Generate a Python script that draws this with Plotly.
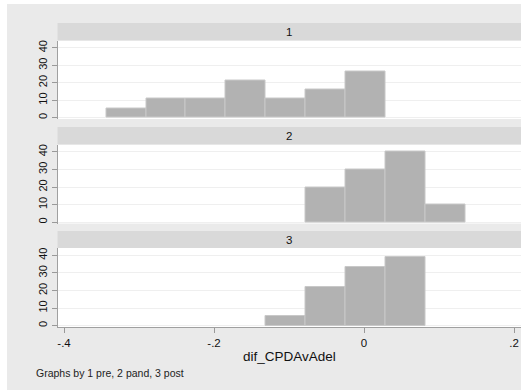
import plotly.graph_objects as go
from plotly.subplots import make_subplots

# Data
bin_edges = [-0.344, -0.2907, -0.2374, -0.1841, -0.1308, -0.0775, -0.0242, 0.0291, 0.0824, 0.1357]
panel_labels = ["1", "2", "3"]
pct_pre = [5.3, 10.8, 10.8, 21.3, 10.8, 16.0, 26.6, None, None]
pct_pand = [None, None, None, None, None, 20.0, 30.0, 40.0, 10.0]
pct_post = [None, None, None, None, 5.5, 22.2, 33.3, 38.9, None]
series = [pct_pre, pct_pand, pct_post]
x_tickvals = [-0.4, -0.2, 0, 0.2]
x_ticktext = ["-.4", "-.2", "0", ".2"]
y_tickvals = [0, 10, 20, 30, 40]
x_title = "dif_CPDAvAdel"
note = "Graphs by 1 pre, 2 pand, 3 post"

W, H = 525, 390
def px(x):
    return x / W
def py(y):
    return 1 - y / H

centers = [(bin_edges[i] + bin_edges[i + 1]) / 2 for i in range(len(bin_edges) - 1)]
widths = [bin_edges[i + 1] - bin_edges[i] for i in range(len(bin_edges) - 1)]

fig = make_subplots(rows=3, cols=1, shared_xaxes=True)

# panel pixel geometry: (header_top, plot_top, plot_bottom)
panels = [(23, 40.5, 119), (127, 144.5, 223.5), (231, 248, 327)]
x_left, x_right = 57.5, 521
FONT = "Liberation Sans, Arial"

for i, vals in enumerate(series):
    fig.add_trace(go.Bar(x=centers, y=vals, width=widths,
                         marker=dict(color="#B2B2B2", line=dict(color="#C8C8C8", width=1)),
                         showlegend=False), row=i + 1, col=1)

shapes = [dict(type="rect", xref="paper", yref="paper", x0=px(7), x1=px(521), y0=py(390), y1=py(4),
               fillcolor="#EAEAEA", line=dict(width=0), layer="below")]
annotations = []
for i, (ht, pt, pb) in enumerate(panels):
    yax = "yaxis" if i == 0 else f"yaxis{i+1}"
    xax = "xaxis" if i == 0 else f"xaxis{i+1}"
    fig.layout[yax].update(domain=[py(pb), py(pt)], range=[-0.75, 44.2],
                           tickvals=y_tickvals, tickangle=-90, ticks="outside", ticklen=5,
                           tickcolor="#999999", showline=True, linecolor="#A0A0A0", linewidth=1,
                           showgrid=True, gridcolor="#EFEFEF", gridwidth=1, zeroline=False,
                           tickfont=dict(family=FONT, size=11, color="#111111"),
                           fixedrange=True)
    fig.layout[xax].update(domain=[px(x_left), px(x_right)], range=[-0.4087, 0.2093],
                           showgrid=False, zeroline=False)
    shapes.append(dict(type="rect", xref="paper", yref="paper", x0=px(x_left), x1=px(x_right),
                       y0=py(pt), y1=py(pb), fillcolor="white", line=dict(width=0), layer="below"))
    shapes.append(dict(type="rect", xref="paper", yref="paper", x0=px(x_left), x1=px(x_right),
                       y0=py(pt), y1=py(ht), fillcolor="#D9D9D9", line=dict(width=0)))
    annotations.append(dict(text=panel_labels[i], xref="paper", yref="paper",
                            x=px((x_left + x_right) / 2), y=py((ht + pt) / 2),
                            showarrow=False, xanchor="center", yanchor="middle",
                            font=dict(family=FONT, size=11.5, color="#111111")))

fig.layout["xaxis3"].update(tickvals=x_tickvals, ticktext=x_ticktext, ticks="outside", ticklen=5,
                            tickcolor="#999999", showline=True, linecolor="#A0A0A0", linewidth=1,
                            showticklabels=True,
                            tickfont=dict(family=FONT, size=11.5, color="#111111"))
fig.layout["xaxis"].update(showticklabels=False)
fig.layout["xaxis2"].update(showticklabels=False)

annotations.append(dict(text=x_title, xref="paper", yref="paper", x=px((x_left + x_right) / 2), y=py(356),
                        showarrow=False, xanchor="center", yanchor="middle",
                        font=dict(family=FONT, size=13.5, color="#111111")))
annotations.append(dict(text=note, xref="paper", yref="paper", x=px(34), y=py(373),
                        showarrow=False, xanchor="left", yanchor="middle",
                        font=dict(family=FONT, size=10.5, color="#222222")))

fig.update_layout(width=W, height=H, margin=dict(l=0, r=0, t=0, b=0),
                  paper_bgcolor="white", plot_bgcolor="rgba(0,0,0,0)", bargap=0,
                  shapes=shapes, annotations=annotations)

fig.write_html("out.html", config={"displayModeBar": False})
